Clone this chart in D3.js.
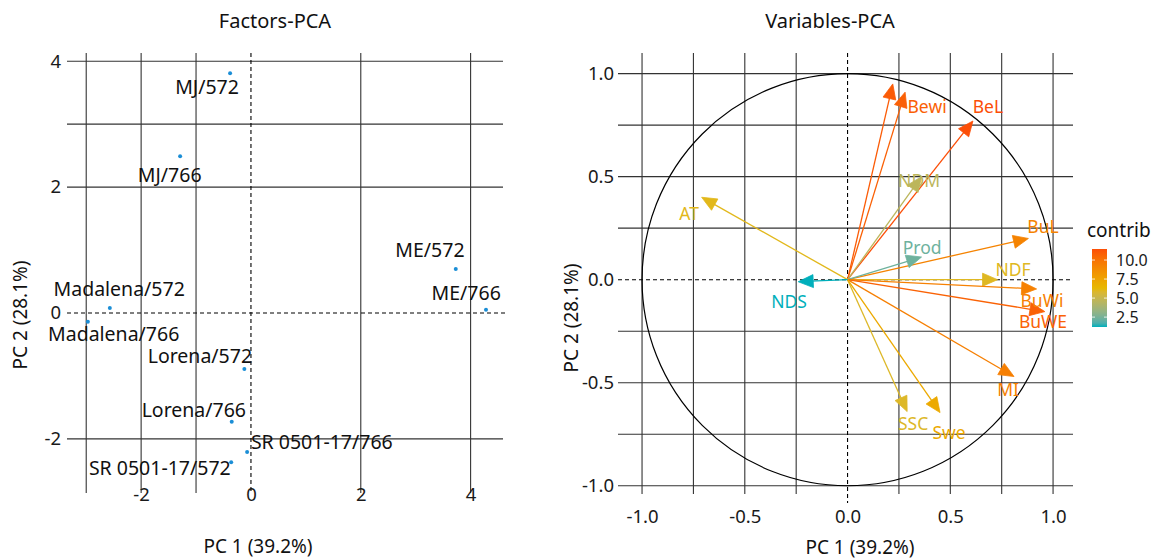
<!DOCTYPE html>
<html><head><meta charset="utf-8">
<script src="https://cdn.jsdelivr.net/npm/d3@7"></script>
<style>
body{margin:0;background:#fff;}
svg{display:block;font-family:"Noto Sans",sans-serif;}
</style></head>
<body><svg id="c" width="1155" height="559"></svg>
<script>
// ---------- Left panel: individuals ----------
const indNames = ["MJ/572","MJ/766","ME/572","ME/766","Madalena/572","Madalena/766","Lorena/572","Lorena/766","SR 0501-17/766","SR 0501-17/572"];
const indPC1 = [-0.38,-1.29,3.73,4.28,-2.57,-2.97,-0.12,-0.35,-0.07,-0.36];
const indPC2 = [3.81,2.49,0.70,0.05,0.08,-0.14,-0.89,-1.73,-2.21,-2.37];
// repelled label positions (data units)
const indLabX = [-0.80,-1.48,3.26,3.92,-2.40,-2.50,-0.93,-1.04,1.29,-1.66];
const indLabY = [3.59,2.19,1.00,0.32,0.38,-0.33,-0.68,-1.54,-2.06,-2.46];
const leftXTicks = [-2,0,2,4];
const leftYTicks = [-2,0,2,4];
const leftXGrid = [-3,-2,-1,2,4];
const leftYGrid = [4,3,2,-2];

// ---------- Right panel: variables ----------
const varNames = ["","Bewi","BeL","NDM","BuL","Prod","NDF","BuWi","BuWE","MI","SSC","Swe","AT","NDS"];
const varPC1 = [0.22,0.28,0.61,0.36,0.88,0.36,0.73,0.92,0.96,0.81,0.29,0.45,-0.71,-0.24];
const varPC2 = [0.95,0.91,0.77,0.50,0.20,0.11,0.0,-0.045,-0.155,-0.47,-0.64,-0.645,0.40,-0.01];
const varContrib = [11.0,10.8,11.45,4.6,9.2,2.3,6.0,9.3,10.7,9.4,5.9,7.2,6.1,1.2];
const varLabX = [0,0.387,0.683,0.348,0.951,0.363,0.805,0.946,0.951,0.781,0.319,0.494,-0.771,-0.285];
const varLabY = [0,0.840,0.840,0.481,0.257,0.155,0.049,-0.102,-0.204,-0.534,-0.699,-0.743,0.320,-0.107];
const rightTicks = [-1,-0.5,0,0.5,1];
const rightGrid = [-1,-0.75,-0.5,-0.25,0.25,0.5,0.75,1];
const legendTicks = [2.5,5,7.5,10];

const svg = d3.select("#c");
const FS_T = 20, FS_AX = 19, FS_TK = 18.5, FS_L = 19.5, FS_R = 17.5;
const gridCol = "#333";
const hy = f => (d => f(d).replace("\u2212","-"));

// ===== Left =====
const xL = d3.scaleLinear().domain([-3.35,4.59]).range([67,503]);
const yL = d3.scaleLinear().domain([4.13,-2.86]).range([53,493]);
const gL = svg.append("g");
gL.selectAll("line.vg").data(leftXGrid).join("line")
  .attr("x1",d=>xL(d)).attr("x2",d=>xL(d)).attr("y1",yL.range()[0]).attr("y2",yL.range()[1])
  .attr("stroke",gridCol).attr("stroke-width",1.1);
gL.selectAll("line.hg").data(leftYGrid).join("line")
  .attr("y1",d=>yL(d)).attr("y2",d=>yL(d)).attr("x1",xL.range()[0]).attr("x2",xL.range()[1])
  .attr("stroke",gridCol).attr("stroke-width",1.1);
gL.append("line").attr("x1",xL(0)).attr("x2",xL(0)).attr("y1",53).attr("y2",493)
  .attr("stroke","#000").attr("stroke-dasharray","4,3").attr("stroke-width",1.1);
gL.append("line").attr("x1",67).attr("x2",507).attr("y1",yL(0)).attr("y2",yL(0))
  .attr("stroke","#000").attr("stroke-dasharray","4,3").attr("stroke-width",1.1);
gL.selectAll("circle.pt").data(indNames).join("circle")
  .attr("cx",(d,i)=>xL(indPC1[i])).attr("cy",(d,i)=>yL(indPC2[i])).attr("r",2)
  .attr("fill","#1b8ed6");
gL.selectAll("text.lab").data(indNames).join("text")
  .attr("x",(d,i)=>xL(indLabX[i])).attr("y",(d,i)=>yL(indLabY[i]))
  .attr("text-anchor","middle").attr("dy","0.35em").attr("font-size",FS_L).attr("fill","#111")
  .text(d=>d);

function styleAxis(fs){
  return g=>{
    g.select(".domain").remove();
    g.selectAll("text").attr("font-size",fs).attr("fill","#1a1a1a").attr("font-family","Noto Sans");
  };
}
svg.append("g").attr("transform","translate(0,486)")
  .call(d3.axisBottom(xL).tickValues(leftXTicks).tickSize(0).tickPadding(2).tickFormat(hy(d3.format("d"))))
  .call(styleAxis(FS_TK));
svg.append("g").attr("transform","translate(65,0)")
  .call(d3.axisLeft(yL).tickValues(leftYTicks).tickSize(0).tickPadding(4).tickFormat(hy(d3.format("d"))))
  .call(styleAxis(FS_TK));
svg.append("text").attr("x",275).attr("y",21).attr("text-anchor","middle").attr("dy","0.35em")
  .attr("font-size",FS_T).attr("fill","#111").text("Factors-PCA");
svg.append("text").attr("x",258).attr("y",546).attr("text-anchor","middle").attr("dy","0.35em")
  .attr("font-size",FS_AX).attr("fill","#111").text("PC 1 (39.2%)");
svg.append("text").attr("transform","translate(20,315) rotate(-90)").attr("text-anchor","middle").attr("dy","0.35em")
  .attr("font-size",FS_AX).attr("fill","#111").text("PC 2 (28.1%)");

// ===== Right =====
const xR = d3.scaleLinear().domain([-1.117,1.097]).range([618,1073]);
const yR = d3.scaleLinear().domain([1.10,-1.04]).range([53,494]);
const gR = svg.append("g");
gR.selectAll("line.vg").data(rightGrid).join("line")
  .attr("x1",d=>xR(d)).attr("x2",d=>xR(d)).attr("y1",53).attr("y2",494)
  .attr("stroke",gridCol).attr("stroke-width",1.1);
gR.selectAll("line.hg").data(rightGrid).join("line")
  .attr("y1",d=>yR(d)).attr("y2",d=>yR(d)).attr("x1",618).attr("x2",1073)
  .attr("stroke",gridCol).attr("stroke-width",1.1);
gR.append("line").attr("x1",xR(0)).attr("x2",xR(0)).attr("y1",53).attr("y2",503)
  .attr("stroke","#000").attr("stroke-dasharray","4,3").attr("stroke-width",1.1);
gR.append("line").attr("x1",618).attr("x2",1073).attr("y1",yR(0)).attr("y2",yR(0))
  .attr("stroke","#000").attr("stroke-dasharray","4,3").attr("stroke-width",1.1);
gR.append("ellipse").attr("cx",xR(0)).attr("cy",yR(0))
  .attr("rx",xR(1)-xR(0)).attr("ry",yR(0)-yR(1))
  .attr("fill","none").attr("stroke","#000").attr("stroke-width",1.2);

const cExt = d3.extent(varContrib);
const color = d3.scaleLinear().domain([cExt[0],(cExt[0]+cExt[1])/2,cExt[1]])
  .range(["#00AFBB","#E7B800","#FC4E07"]).interpolate(d3.interpolateLab);

const HL = 15, HW = 6.5;
varNames.forEach((nm,i)=>{
  const x0 = xR(0), y0 = yR(0), x1 = xR(varPC1[i]), y1 = yR(varPC2[i]);
  const dx = x1-x0, dy = y1-y0, L = Math.hypot(dx,dy);
  const ux = dx/L, uy = dy/L;
  const bx = x1-ux*HL, by = y1-uy*HL;
  const col = color(varContrib[i]);
  gR.append("line").attr("x1",x0).attr("y1",y0).attr("x2",bx+ux*2).attr("y2",by+uy*2)
    .attr("stroke",col).attr("stroke-width",1.3);
  gR.append("path").attr("d",`M${x1},${y1}L${bx-uy*HW},${by+ux*HW}L${bx+uy*HW},${by-ux*HW}Z`)
    .attr("fill",col).attr("stroke",col).attr("stroke-width",0.8).attr("stroke-linejoin","round");
});
gR.selectAll("text.vl").data(varNames).join("text")
  .attr("x",(d,i)=>xR(varLabX[i])).attr("y",(d,i)=>yR(varLabY[i]))
  .attr("text-anchor","middle").attr("dy","0.35em").attr("font-size",FS_R)
  .attr("fill",(d,i)=>color(varContrib[i])).text(d=>d);

svg.append("g").attr("transform","translate(0,508)")
  .call(d3.axisBottom(xR).tickValues(rightTicks).tickSize(0).tickPadding(2).tickFormat(hy(d3.format(".1f"))))
  .call(styleAxis(FS_TK));
svg.append("g").attr("transform","translate(617,0)")
  .call(d3.axisLeft(yR).tickValues(rightTicks).tickSize(0).tickPadding(3).tickFormat(hy(d3.format(".1f"))))
  .call(styleAxis(FS_TK));
svg.append("text").attr("x",830).attr("y",21).attr("text-anchor","middle").attr("dy","0.35em")
  .attr("font-size",FS_T).attr("fill","#111").text("Variables-PCA");
svg.append("text").attr("x",860).attr("y",547).attr("text-anchor","middle").attr("dy","0.35em")
  .attr("font-size",FS_AX).attr("fill","#111").text("PC 1 (39.2%)");
svg.append("text").attr("transform","translate(571,318) rotate(-90)").attr("text-anchor","middle").attr("dy","0.35em")
  .attr("font-size",FS_AX).attr("fill","#111").text("PC 2 (28.1%)");

// ===== Legend =====
const lg = svg.append("g");
const yLeg = d3.scaleLinear().domain(cExt).range([327,249]);
const defs = svg.append("defs");
const grad = defs.append("linearGradient").attr("id","cg").attr("x1",0).attr("x2",0).attr("y1",1).attr("y2",0);
d3.range(0,1.0001,0.05).forEach(t=>{
  grad.append("stop").attr("offset",t).attr("stop-color",color(cExt[0]+t*(cExt[1]-cExt[0])));
});
lg.append("rect").attr("x",1092).attr("y",249).attr("width",15).attr("height",78).attr("fill","url(#cg)");
lg.selectAll("line.tk").data(legendTicks).join("line")
  .attr("x1",1092).attr("x2",1095).attr("y1",d=>yLeg(d)).attr("y2",d=>yLeg(d))
  .attr("stroke","#fff").attr("stroke-width",0.8);
lg.selectAll("line.tk2").data(legendTicks).join("line")
  .attr("x1",1104).attr("x2",1107).attr("y1",d=>yLeg(d)).attr("y2",d=>yLeg(d))
  .attr("stroke","#fff").attr("stroke-width",0.8);
svg.append("g").attr("transform","translate(1107,0)")
  .call(d3.axisRight(yLeg).tickValues(legendTicks).tickSize(0).tickPadding(9).tickFormat(d3.format(".1f")))
  .call(styleAxis(16));
lg.append("text").attr("x",1087).attr("y",230).attr("dy","0.35em").attr("font-size",19).attr("fill","#111").text("contrib");
</script></body></html>
